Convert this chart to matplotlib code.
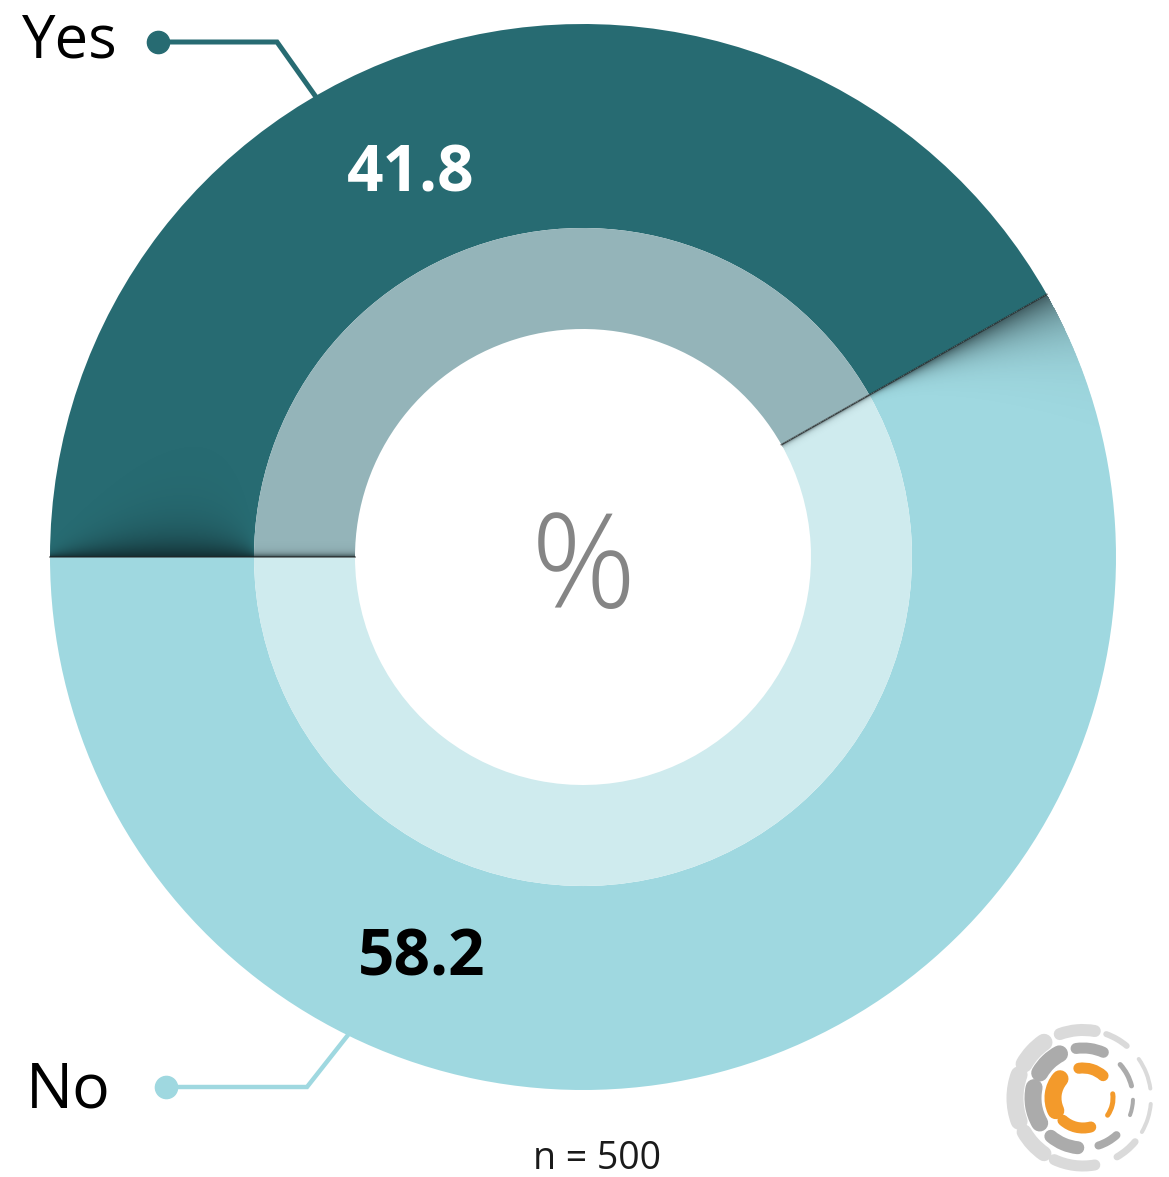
import numpy as np
import matplotlib.pyplot as plt
from matplotlib.patches import Arc

# survey answers, percent
labels = ['Yes', 'No']
values = [41.8, 58.2]
n_resp = 500

outer_col = ['#276B72', '#9FD8E0']
inner_col = ['#94B4B9', '#CFEBEE']

W, H = 1169, 1177
cx, cy = 583, 620
r_out, r_mid, r_in = 533, 329, 228

plt.rcParams['font.family'] = ['Open Sans', 'DejaVu Sans']

fig = plt.figure(figsize=(W / 100, H / 100), dpi=100)
ax = fig.add_axes([0, 0, 1, 1])

# two rings: dark outer band, pale inner band
ax.pie(values, colors=outer_col, radius=r_out, center=(cx, cy), startangle=180,
       counterclock=False, wedgeprops=dict(width=r_out - r_mid, linewidth=0))
ax.pie(values, colors=inner_col, radius=r_mid, center=(cx, cy), startangle=180,
       counterclock=False, wedgeprops=dict(width=r_mid - r_in, linewidth=0))

# soft shadow along the two slice edges
theta_b = np.radians(180 - 360 * values[0] / 100)
yy, xx = np.mgrid[0:H, 0:W] + 0.5
dx, dy = xx - cx, yy - cy
rr = np.hypot(dx, dy)
ring = (rr >= r_in) & (rr <= r_out)

t_out = np.clip((rr - r_mid) / (r_out - r_mid), 0, 1)
w_left = np.where(rr > r_mid, 3 + 18 * np.sin(np.pi * t_out ** 0.7), 3.0)
left = np.where((dx < 0) & (dy >= 0), 0.75 * np.exp(-dy / w_left), 0)

ux, uy = np.cos(theta_b), np.sin(theta_b)
s = dx * ux + dy * uy
d = -(dx * -uy + dy * ux)
t_s = np.clip((s - r_mid) / (r_out - r_mid), 0, 1)
w_right = np.where(s > r_mid, 2 + 30 * t_s ** 1.5, 2.0)
right = np.where((s > 0) & (d >= 0), 0.65 * np.exp(-d / w_right), 0)

alpha = np.where(ring, np.maximum(left, right), 0)
shade = np.zeros((H, W, 4))
shade[..., :3] = [0.05, 0.1, 0.11]
shade[..., 3] = alpha
ax.imshow(shade, extent=(0, W, 0, H), origin='lower', interpolation='bilinear', zorder=3)

for ang in [np.pi, theta_b]:
    ax.plot([cx + r_in * np.cos(ang), cx + r_out * np.cos(ang)],
            [cy + r_in * np.sin(ang), cy + r_out * np.sin(ang)],
            color='#222222', lw=1.2, alpha=0.6, zorder=4)

# value labels
ax.text(411, 986, f'{values[0]:.1f}', color='white', fontsize=46, fontweight='bold',
        ha='center', va='baseline', zorder=5)
ax.text(422, 202, f'{values[1]:.1f}', color='black', fontsize=46, fontweight='bold',
        ha='center', va='baseline', zorder=5)
ax.text(cx, 569, '%', color='#858585', fontsize=94, fontweight='light',
        ha='center', va='baseline', zorder=5)

# leader lines to the category names
ax.plot([158, 277, 316], [1135, 1135, 1080], color=outer_col[0], lw=3.6,
        solid_joinstyle='miter', zorder=2)
ax.plot([158], [1135], 'o', color=outer_col[0], ms=16, zorder=2)
ax.text(22, 1120, labels[0], fontsize=43, ha='left', va='baseline', color='black')

ax.plot([166, 307, 348], [90, 90, 142], color=outer_col[1], lw=3.2,
        solid_joinstyle='miter', zorder=2)
ax.plot([166], [90], 'o', color=outer_col[1], ms=16, zorder=2)
ax.text(26, 69, labels[1], fontsize=45, ha='left', va='baseline', color='black')

ax.text(597, 8, f'n = {n_resp}', fontsize=27, ha='center', va='baseline', color='#1a1a1a')

# small logo of dashed rings
lx, ly = 1083, 79
logo = [
    # radius, theta1, theta2, width px, colour
    (30, 140, 205, 17, '#F39A2B'), (30, 48, 98, 11, '#F39A2B'),
    (30, -35, 8, 5, '#F39A2B'), (30, 228, 285, 11, '#F39A2B'),
    (50, 118, 150, 17, '#ABABAB'), (50, 66, 98, 11, '#ABABAB'),
    (50, 14, 42, 5, '#ABABAB'), (50, -20, -2, 4, '#ABABAB'),
    (50, -72, -48, 8, '#ABABAB'), (50, 230, 264, 13, '#ABABAB'),
    (50, 168, 210, 17, '#ABABAB'),
    (68, 125, 150, 17, '#DADADA'), (68, 80, 110, 12, '#DADADA'),
    (68, 50, 70, 6, '#DADADA'), (68, 8, 35, 4, '#DADADA'),
    (68, -30, -5, 4, '#DADADA'), (68, -60, -40, 7, '#DADADA'),
    (68, 245, 280, 11, '#DADADA'), (68, 210, 235, 15, '#DADADA'),
    (68, 160, 200, 17, '#DADADA'),
]
for rad, t1, t2, lw, col in logo:
    arc = Arc((lx, ly), 2 * rad, 2 * rad, theta1=t1, theta2=t2, lw=lw * 0.72,
              color=col, capstyle='round', zorder=2)
    ax.add_patch(arc)

ax.set_xlim(0, W)
ax.set_ylim(0, H)
ax.set_aspect('equal')
ax.axis('off')

fig.savefig('out.png', dpi=100, facecolor='white')
